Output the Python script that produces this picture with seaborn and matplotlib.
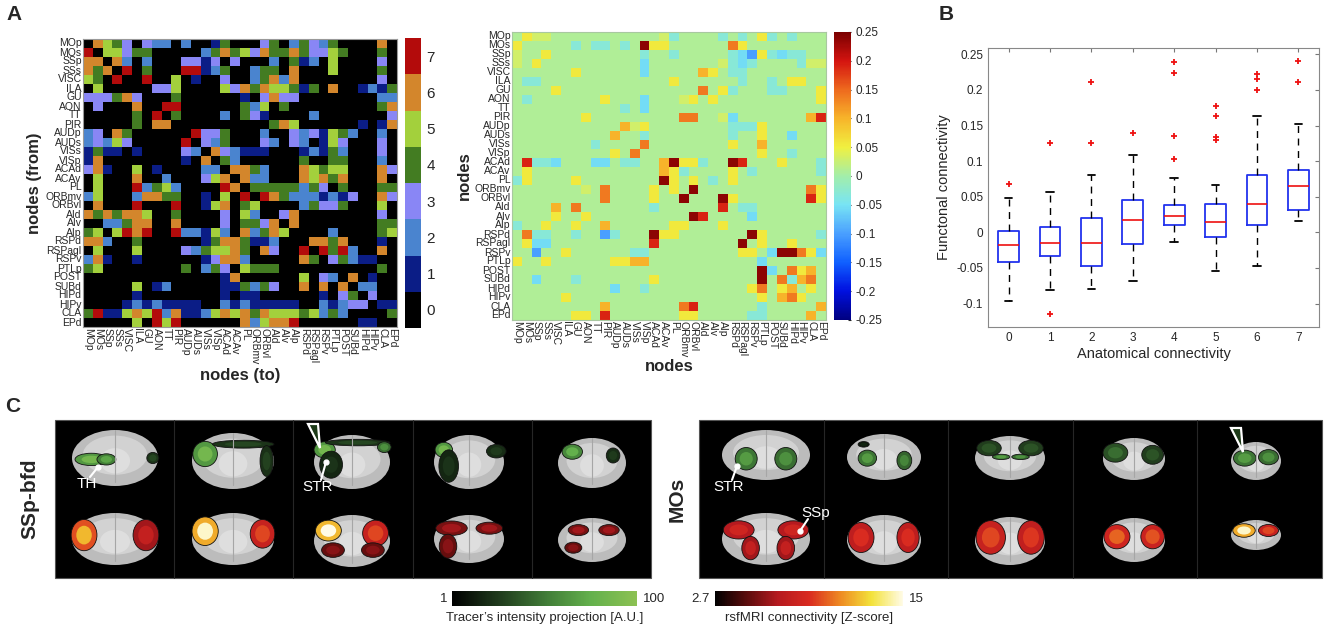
import numpy as np
import matplotlib
matplotlib.use("Agg")
import matplotlib.pyplot as plt
from matplotlib.colors import ListedColormap, LinearSegmentedColormap, Normalize
from matplotlib.patches import Ellipse, Rectangle, Polygon
import matplotlib.cm as cm
import seaborn as sns

sns.set_style("white")
plt.rcParams['font.family'] = ['Liberation Sans', 'DejaVu Sans']

# ---------------- data ----------------
nodes = ["MOp", "MOs", "SSp", "SSs", "VISC", "ILA", "GU", "AON", "TT", "PIR",
         "AUDp", "AUDs", "VISs", "VISp", "ACAd", "ACAv", "PL", "ORBmv", "ORBvl",
         "AId", "AIv", "AIp", "RSPd", "RSPagl", "RSPv", "PTLp", "POST", "SUBd",
         "HIPd", "HIPv", "CLA", "EPd"]

# anatomical connectivity class (0-7), one string per "from" node
anat_rows = [
    "06543032202001400034024324000060",
    "70553440000024645364464335400040",
    "66062020003313030002041205000030",
    "64607040007712400244060005000040",
    "54070070050100300246260000000030",
    "05000003350000536465541406001214",
    "33346300040000001036330000000022",
    "03000600770000004250400000000046",
    "00000407040000204310000200000003",
    "00000406600000000004650000001016",
    "23064000000733400020032315420020",
    "23253000007032400032032015300030",
    "14110100003206321110001214200030",
    "16000000001060420000004004400020",
    "36100501000022066420006545500063",
    "05000600200035606220006564600060",
    "05000724520000760444442430400044",
    "25000266440010507076422212130063",
    "06000700070015604500002433400050",
    "64646650040000305200360000000030",
    "00224660060000304436060000000044",
    "45057670072215206246500002000045",
    "66200400000014664112000664600010",
    "05000500003245564063007074720060",
    "26100100000013662000006403421100",
    "45000000004024305444000000000040",
    "00000000000000160000005032060100",
    "00000501200000114243006060602200",
    "00000100000000101100000010340300",
    "00001212111100212111110021233011",
    "47115657261125656465554524200004",
    "00000507570000006256670000001100",
]

# functional connectivity: level codes and the cells that stand out
fc_levels = {'.': 0.008, 'c': -0.03, 'b': -0.055, 'B': -0.1, 'y': 0.03,
             'Y': 0.055, 'o': 0.1, 'O': 0.14, 'r': 0.19, 'R': 0.24}
fc_cells = [
    "1Y 2y 3y 15y 16c 21c 23c 25Y 26c 28c",
    "0Y 6c 8c 9c 11c 13R 14Y 15Y 22O 23Y",
    "0y 3Y 13c 16c 22c 23b 24B 25Y 26c 27b 28c 29c",
    "0y 2Y 13b 21y 22c 23b 24c 29c 30y 31y",
    "6Y 13b 19o 20Y 22c 23c",
    "1c 2c 16Y 23c 26c 28Y 29Y",
    "4Y 19O 21Y 22c 26c 27c 31Y",
    "1c 9Y 13b 17y 18Y 20Y 31Y",
    "11c 13b",
    "7Y 17O 18O 21y 22b 30o 31r",
    "11o 12y 13Y 22c 23c 24c 25Y",
    "10o 13c 22c 25Y 28b",
    "8c 13O 22Y 25o",
    "10Y 12O 25Y 28c",
    "1r 2c 3c 4b 8b 9b 11c 12c 15o 16R 17Y 18Y 19c 22R 23r 27Y 31c",
    "1Y 15o 16Y 17c 22Y 24c 31c",
    "0c 1Y 6Y 15R 16Y 18Y 20c 22Y",
    "7y 9O 14Y 16Y 18R 30O 31Y",
    "9O 14Y 17R 21R 22Y 30r 31Y",
    "4o 6O 14c 21r 23c 24c",
    "4Y 7Y 18R 19r 24b",
    "0c 3Y 6Y 9o 16Y 17Y 21Y",
    "1O 2c 3c 6c 9B 10c 14R 15Y 16Y 24R 25Y 31c",
    "1Y 2b 3b 14r 23R 25Y 28Y",
    "2B 5Y 12c 13c 23Y 24Y 26b 27R 28R 29O 30Y 31b",
    "0Y 3Y 10Y 11Y 12o 13o 25b",
    "25R 26b 28O 29Y 30o",
    "2b 6c 14Y 25R 27O 28c 29o 30O",
    "10b 13c 24Y 25O 27Y 28o 30Y",
    "5Y 25Y 27o 28O 29Y",
    "9o 17O 18r 25c 31o",
    "6Y 7Y 9r 17Y 18Y 24c 25c 30o",
]
fc_ticks = [-0.25, -0.2, -0.15, -0.1, -0.05, 0, 0.05, 0.1, 0.15, 0.2, 0.25]
fc_tick_labels = ['-0.25', '-0.2', '-0.15', '-0.1', '-0.05', '0',
                  '0.05', '0.1', '0.15', '0.2', '0.25']

# panel B box statistics per anatomical class
anat_levels = [0, 1, 2, 3, 4, 5, 6, 7]
whisk_lo = [-0.096, -0.081, -0.079, -0.068, -0.013, -0.055, -0.047, 0.016]
box_q1 = [-0.041, -0.033, -0.047, -0.016, 0.010, -0.007, 0.010, 0.032]
box_med = [-0.018, -0.015, -0.015, 0.017, 0.023, 0.014, 0.040, 0.065]
box_q3 = [0.002, 0.008, 0.020, 0.045, 0.038, 0.040, 0.081, 0.088]
whisk_hi = [0.048, 0.057, 0.081, 0.109, 0.077, 0.066, 0.163, 0.152]
outliers = [[0.068], [0.126, -0.115], [0.211, 0.126], [0.139],
            [0.240, 0.224, 0.136, 0.103], [0.178, 0.163, 0.134, 0.130],
            [0.222, 0.216, 0.200], [0.241, 0.211]]
fc_box_ticks = [-0.1, -0.05, 0, 0.05, 0.1, 0.15, 0.2, 0.25]
fc_box_labels = ['-0.1', '-0.05', '0', '0.05', '0.1', '0.15', '0.2', '0.25']

# ---------------- figure ----------------
W, H = 1325, 629
fig = plt.figure(figsize=(W / 100, H / 100), dpi=100)


def px_axes(x0, y0, x1, y1):
    return fig.add_axes([x0 / W, 1 - y1 / H, (x1 - x0) / W, (y1 - y0) / H])


# A left: anatomical matrix
anat = np.array([[int(c) for c in r] for r in anat_rows])
anat_cmap = ListedColormap(['#000000', '#0b1d86', '#4a84cf', '#8986f5',
                            '#437c22', '#a3d03c', '#d3862c', '#b30b0b'])
ax1 = px_axes(83, 39, 397, 327)
cax1 = px_axes(405, 38, 421, 328)
sns.heatmap(anat, ax=ax1, cbar_ax=cax1, cmap=anat_cmap, vmin=-0.5, vmax=7.5,
            xticklabels=nodes, yticklabels=nodes, cbar_kws={'ticks': range(8)})
ax1.tick_params(length=0, labelsize=7.5, pad=1)
plt.setp(ax1.get_xticklabels(), rotation=270, ha='center', va='top')
plt.setp(ax1.get_yticklabels(), rotation=0)
ax1.set_xlabel('nodes (to)', fontsize=12, fontweight='bold', labelpad=2)
ax1.set_ylabel('nodes (from)', fontsize=12, fontweight='bold', labelpad=2)
for s in ax1.spines.values():
    s.set_visible(True)
    s.set_color('#999999')
cax1.tick_params(length=0, labelsize=11, pad=4)
ax1.collections[0].colorbar.outline.set_edgecolor('#999999')

# A right: functional matrix
fc = np.full((len(nodes), len(nodes)), fc_levels['.'])
for i, spec in enumerate(fc_cells):
    for tok in spec.split():
        fc[i, int(tok[:-1])] = fc_levels[tok[-1]]
# matlab-like jet, a little paler in the middle as in the figure
fc_cmap = LinearSegmentedColormap.from_list('fcjet', [
    (0.0, '#000080'), (0.1, '#0010e0'), (0.2, '#1060ff'), (0.3, '#4aa0ff'),
    (0.4, '#78e4f4'), (0.5, '#a2eeaa'), (0.6, '#f0f040'), (0.7, '#f7b42a'),
    (0.8, '#ee6a1e'), (0.9, '#d41410'), (1.0, '#7a0000')])
ax2 = px_axes(512, 32, 826, 320)
cax2 = px_axes(834, 32, 851, 320)
sns.heatmap(fc, ax=ax2, cbar_ax=cax2, cmap=fc_cmap, vmin=-0.25, vmax=0.25,
            xticklabels=nodes, yticklabels=nodes, cbar_kws={'ticks': fc_ticks})
ax2.tick_params(length=0, labelsize=7.5, pad=1)
plt.setp(ax2.get_xticklabels(), rotation=270, ha='center', va='top')
plt.setp(ax2.get_yticklabels(), rotation=0)
ax2.set_xlabel('nodes', fontsize=12, fontweight='bold', labelpad=1)
ax2.set_ylabel('nodes', fontsize=12, fontweight='bold', labelpad=2)
for s in ax2.spines.values():
    s.set_visible(True)
    s.set_color('#a8c8a0')
cb2 = ax2.collections[0].colorbar
cb2.set_ticklabels(fc_tick_labels)
cb2.outline.set_edgecolor('#999999')
cax2.tick_params(length=2, labelsize=8.5, pad=3, direction='in')

# B: boxplot
axb = px_axes(988, 48, 1319, 327)
stats = [dict(whislo=a, q1=b, med=c, q3=d, whishi=e, fliers=f)
         for a, b, c, d, e, f in zip(whisk_lo, box_q1, box_med, box_q3, whisk_hi, outliers)]
axb.bxp(stats, positions=anat_levels, widths=0.5, capwidths=0.18,
        boxprops=dict(color='#2233ee', lw=1.3),
        medianprops=dict(color='#ee1111', lw=1.2),
        whiskerprops=dict(color='black', lw=1, ls=(0, (5, 4))),
        capprops=dict(color='black', lw=1.3),
        flierprops=dict(marker='+', markeredgecolor='#ee1111', markersize=5, mew=1.3))
axb.set_xlim(-0.5, 7.5)
axb.set_ylim(-0.133, 0.259)
axb.set_yticks(fc_box_ticks)
axb.set_yticklabels(fc_box_labels)
axb.tick_params(direction='in', top=True, right=True, labelsize=8.5, length=3,
                color='#777777')
axb.set_xlabel('Anatomical connectivity', fontsize=10.5, labelpad=2)
axb.set_ylabel('Functonal connectivity', fontsize=10.5, labelpad=4)
for s in axb.spines.values():
    s.set_color('#888888')

# C: brain slices (drawn in pixel coordinates)
axc = fig.add_axes([0, 0, 1, 1], zorder=-1)
axc.set_xlim(0, W)
axc.set_ylim(H, 0)
axc.axis('off')

green_cmap = LinearSegmentedColormap.from_list(
    'tracer', ['#000000', '#1f3a1c', '#3f7a36', '#63b04c', '#8cc152'])
red_cmap = LinearSegmentedColormap.from_list(
    'rsfmri', ['#000000', '#5a0c0c', '#b51a1f', '#d92a20', '#ee8a22', '#f3e23a', '#fffbe6'])

# (cx, top cy, half-w, half-h, bottom cy, bottom half-h)
slices_ssp = [(115, 458, 43, 28, 539, 26), (233, 461, 41, 28, 539, 26),
              (352, 462, 38, 27, 541, 26), (469, 462, 35, 27, 539, 24),
              (592, 463, 34, 25, 540, 22)]
slices_mos = [(766, 455, 44, 25, 539, 26), (884, 457, 37, 23, 540, 25),
              (1010, 458, 35, 22, 541, 24), (1134, 459, 31, 21, 540, 22),
              (1256, 461, 25, 19, 535, 15)]
# blobs: (dx, dy, rx, ry, level) relative to slice half sizes
blobs_ssp_top = [
    [(-0.55, 0.05, 0.38, 0.22, 0.85), (-0.2, 0.05, 0.22, 0.2, 0.7), (0.88, 0.0, 0.14, 0.2, 0.3)],
    [(-0.68, -0.25, 0.3, 0.45, 0.85), (0.25, -0.6, 0.75, 0.14, 0.3), (0.82, 0.0, 0.16, 0.55, 0.28)],
    [(-0.72, -0.45, 0.28, 0.3, 0.85), (-0.55, 0.1, 0.3, 0.5, 0.22), (0.15, -0.72, 0.85, 0.12, 0.3),
     (0.85, -0.55, 0.18, 0.2, 0.6)],
    [(-0.72, -0.45, 0.25, 0.28, 0.85), (-0.58, 0.15, 0.28, 0.6, 0.22), (0.78, -0.4, 0.28, 0.25, 0.25)],
    [(-0.58, -0.45, 0.3, 0.3, 0.75), (0.62, -0.3, 0.2, 0.3, 0.25)],
]
blobs_ssp_bot = [
    [(-0.72, -0.15, 0.3, 0.6, 0.75), (0.72, -0.15, 0.3, 0.6, 0.4)],
    [(-0.68, -0.3, 0.32, 0.55, 0.97), (0.72, -0.2, 0.3, 0.55, 0.55)],
    [(-0.62, -0.4, 0.34, 0.4, 1.0), (0.62, -0.3, 0.34, 0.5, 0.55),
     (-0.5, 0.35, 0.3, 0.28, 0.25), (0.55, 0.35, 0.3, 0.28, 0.25)],
    [(-0.5, -0.45, 0.45, 0.3, 0.3), (0.58, -0.45, 0.38, 0.25, 0.3), (-0.6, 0.3, 0.25, 0.5, 0.25)],
    [(-0.4, -0.45, 0.3, 0.25, 0.3), (0.5, -0.45, 0.3, 0.25, 0.3), (-0.55, 0.35, 0.25, 0.25, 0.25)],
]
blobs_mos_top = [
    [(-0.45, 0.15, 0.25, 0.45, 0.65), (0.45, 0.15, 0.25, 0.45, 0.6)],
    [(-0.45, 0.05, 0.25, 0.35, 0.65), (0.55, 0.15, 0.2, 0.4, 0.55), (-0.55, -0.55, 0.15, 0.12, 0.15)],
    [(-0.6, -0.45, 0.35, 0.35, 0.35), (0.6, -0.45, 0.35, 0.35, 0.35),
     (-0.25, -0.05, 0.25, 0.12, 0.65), (0.3, -0.05, 0.25, 0.12, 0.6)],
    [(-0.6, -0.3, 0.4, 0.45, 0.45), (0.6, -0.2, 0.35, 0.45, 0.35)],
    [(-0.45, -0.15, 0.45, 0.42, 0.65), (0.5, -0.2, 0.4, 0.4, 0.6)],
]
blobs_mos_bot = [
    [(-0.62, -0.35, 0.35, 0.35, 0.45), (0.62, -0.35, 0.35, 0.35, 0.45),
     (-0.35, 0.35, 0.2, 0.45, 0.4), (0.45, 0.35, 0.2, 0.45, 0.4)],
    [(-0.62, -0.1, 0.35, 0.6, 0.5), (0.65, -0.1, 0.3, 0.6, 0.5)],
    [(-0.55, -0.15, 0.42, 0.7, 0.55), (0.6, -0.15, 0.38, 0.7, 0.52)],
    [(-0.55, -0.15, 0.42, 0.55, 0.6), (0.6, -0.15, 0.38, 0.55, 0.57)],
    [(-0.48, -0.3, 0.45, 0.45, 0.97), (0.5, -0.3, 0.4, 0.4, 0.55)],
]


def draw_brain(cx, cy, hw, hh):
    axc.add_patch(Ellipse((cx, cy), 2 * hw, 2 * hh, fc='#bcbcbc', ec='none'))
    axc.add_patch(Ellipse((cx, cy - 0.1 * hh), 1.5 * hw, 1.4 * hh, fc='#d2d2d2', ec='none'))
    axc.add_patch(Ellipse((cx, cy + 0.1 * hh), 0.7 * hw, 0.9 * hh, fc='#dedede', ec='none'))
    axc.plot([cx, cx], [cy - hh, cy + 0.85 * hh], color='#a6a6a6', lw=0.8)


def draw_blobs(cx, cy, hw, hh, blobs, cmap):
    for dx, dy, rx, ry, v in blobs:
        x, y = cx + dx * hw, cy + dy * hh
        axc.add_patch(Ellipse((x, y), 2 * rx * hw, 2 * ry * hh, fc=cmap(v * 0.75),
                              ec='#111111', lw=0.6))
        axc.add_patch(Ellipse((x, y), 1.2 * rx * hw, 1.2 * ry * hh, fc=cmap(v), ec='none'))


panels = [(55, 651, slices_ssp, blobs_ssp_top, blobs_ssp_bot),
          (699, 1322, slices_mos, blobs_mos_top, blobs_mos_bot)]
for x0, x1, slices, btop, bbot in panels:
    axc.add_patch(Rectangle((x0, 420), x1 - x0, 158, fc='black', ec='#555555', lw=0.8))
    step = (x1 - x0) / 5
    for k in range(1, 5):
        axc.plot([x0 + k * step] * 2, [420, 578], color='#262626', lw=0.8)
    for (cx, cyt, hw, hh, cyb, hhb), bt, bb in zip(slices, btop, bbot):
        draw_brain(cx, cyt, hw, hh)
        draw_blobs(cx, cyt, hw, hh, bt, green_cmap)
        draw_brain(cx, cyb, hw, hhb)
        draw_blobs(cx, cyb, hw, hhb, bb, red_cmap)

# annotations inside panel C
for txt, tx, ty, ax_, ay in [('TH', 87, 484, 98, 467), ('STR', 318, 487, 326, 462),
                             ('STR', 729, 487, 737, 466), ('SSp', 816, 513, 800, 531)]:
    axc.plot([tx + (3 if txt != 'SSp' else -8), ax_], [ty - 7 if txt != 'SSp' else ty + 6, ay],
             color='white', lw=1.5)
    axc.plot([ax_], [ay], 'o', color='white', ms=3.5)
    axc.text(tx, ty, txt, color='white', fontsize=11, ha='center', va='center')
for tx, ty in [(315, 436), (1238, 440)]:
    axc.add_patch(Polygon([(tx - 7, ty - 12), (tx + 3, ty - 12), (tx + 5, ty + 12)],
                          closed=True, fc='#1d3a18', ec='white', lw=1.6))

fig.text(30 / W, 1 - 499 / H, 'SSp-bfd', rotation=90, fontsize=15, fontweight='bold',
         ha='center', va='center')
fig.text(677 / W, 1 - 499 / H, 'MOs', rotation=90, fontsize=15, fontweight='bold',
         ha='center', va='center')

# C colorbars
for (x0, x1), cmap, lo, hi, label in [((452, 637), green_cmap, '1', '100',
                                       "Tracer\u2019s intensity projection [A.U.]"),
                                      ((715, 903), red_cmap, '2.7', '15',
                                       'rsfMRI connectivity [Z-score]')]:
    cax = px_axes(x0, 591, x1, 606)
    cb = fig.colorbar(cm.ScalarMappable(norm=Normalize(0, 1), cmap=cmap), cax=cax,
                      orientation='horizontal')
    cb.set_ticks([])
    cb.outline.set_visible(False)
    fig.text((x0 - 5) / W, 1 - 599 / H, lo, fontsize=9.5, ha='right', va='center')
    fig.text((x1 + 6) / W, 1 - 599 / H, hi, fontsize=9.5, ha='left', va='center')
    fig.text((x0 + x1) / 2 / W, 1 - 618 / H, label, fontsize=9.5, ha='center', va='center')

# panel letters
fig.text(14 / W, 1 - 15 / H, 'A', fontsize=15, fontweight='bold', ha='center', va='center')
fig.text(946 / W, 1 - 15 / H, 'B', fontsize=15, fontweight='bold', ha='center', va='center')
fig.text(13 / W, 1 - 406 / H, 'C', fontsize=15, fontweight='bold', ha='center', va='center')

fig.savefig('out.png', dpi=100)
